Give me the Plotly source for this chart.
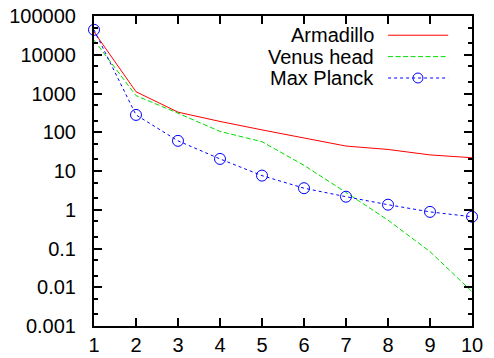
import plotly.graph_objects as go

x_vals = [1, 2, 3, 4, 5, 6, 7, 8, 9, 10]
armadillo = [39000, 1110, 330, 190, 115, 70, 44, 36, 26, 22]
venus_head = [24000, 880, 310, 105, 57, 14, 2.8, 0.54, 0.083, 0.0077]
max_planck = [44000, 280, 60, 20.5, 7.6, 3.6, 2.17, 1.35, 0.88, 0.66]
y_tick_vals = [0.001, 0.01, 0.1, 1, 10, 100, 1000, 10000, 100000]
y_tick_text = ["0.001", "0.01", "0.1", "1", "10", "100", "1000", "10000", "100000"]
names = ["Armadillo", "Venus head", "Max Planck"]
colors = ["#ff0000", "#00dd00", "#0000ff"]
dashes = ["solid", "5px,2.5px", "3px,3px"]

FONT = "Liberation Sans, Arial, sans-serif"

fig = go.Figure()
fig.add_trace(go.Scatter(x=x_vals, y=armadillo, mode="lines", name=names[0],
                         line=dict(color=colors[0], width=1, dash=dashes[0])))
fig.add_trace(go.Scatter(x=x_vals, y=venus_head, mode="lines", name=names[1],
                         line=dict(color=colors[1], width=1, dash=dashes[1])))
fig.add_trace(go.Scatter(x=x_vals, y=max_planck, mode="lines+markers", name=names[2],
                         line=dict(color=colors[2], width=1, dash=dashes[2]),
                         marker=dict(symbol="circle-open", size=11, color=colors[2],
                                     line=dict(width=1, color=colors[2])),
                         cliponaxis=False))

# custom legend (text right-aligned, sample on the right)
leg_y = [0.938, 0.869, 0.8]
for i in range(3):
    fig.add_annotation(x=0.745, y=leg_y[i], xref="paper", yref="paper",
                       text=names[i], showarrow=False, xanchor="right", yanchor="middle",
                       font=dict(family=FONT, size=20, color="#000000"))
    fig.add_shape(type="line", xref="paper", yref="paper",
                  x0=0.778, x1=0.937, y0=leg_y[i], y1=leg_y[i],
                  line=dict(color=colors[i], width=1, dash=dashes[i]))
fig.add_shape(type="circle", xref="paper", yref="paper", xsizemode="pixel", ysizemode="pixel",
              xanchor=0.857, yanchor=leg_y[2], x0=-5, x1=5, y0=-5, y1=5,
              line=dict(color=colors[2], width=1))

fig.update_layout(
    width=494, height=358,
    margin=dict(l=94, r=22, t=16, b=32),
    paper_bgcolor="white", plot_bgcolor="white",
    showlegend=False,
    font=dict(family=FONT, size=20, color="#000000"),
)
fig.update_xaxes(range=[1, 10], tickmode="array", tickvals=x_vals,
                 ticks="inside", ticklen=8, tickwidth=1.5, tickcolor="black",
                 showline=True, linewidth=2, linecolor="black", mirror="ticks",
                 showgrid=False, zeroline=False, automargin=False,
                 tickfont=dict(family=FONT, size=20), ticklabelstandoff=0)
fig.update_yaxes(type="log", range=[-3, 5], tickmode="array", tickvals=y_tick_vals,
                 ticktext=y_tick_text,
                 ticks="inside", ticklen=8, tickwidth=1.5, tickcolor="black",
                 showline=True, linewidth=2, linecolor="black", mirror="ticks",
                 showgrid=False, zeroline=False, automargin=False,
                 minor=dict(ticks="inside", ticklen=4, tickwidth=1.5, tickcolor="black",
                            dtick="D2", showgrid=False),
                 tickfont=dict(family=FONT, size=20), ticklabelstandoff=12)

fig.write_html("out.html", config={"displayModeBar": False},
               post_script="document.body.style.margin='0px';document.body.style.overflow='hidden';")
